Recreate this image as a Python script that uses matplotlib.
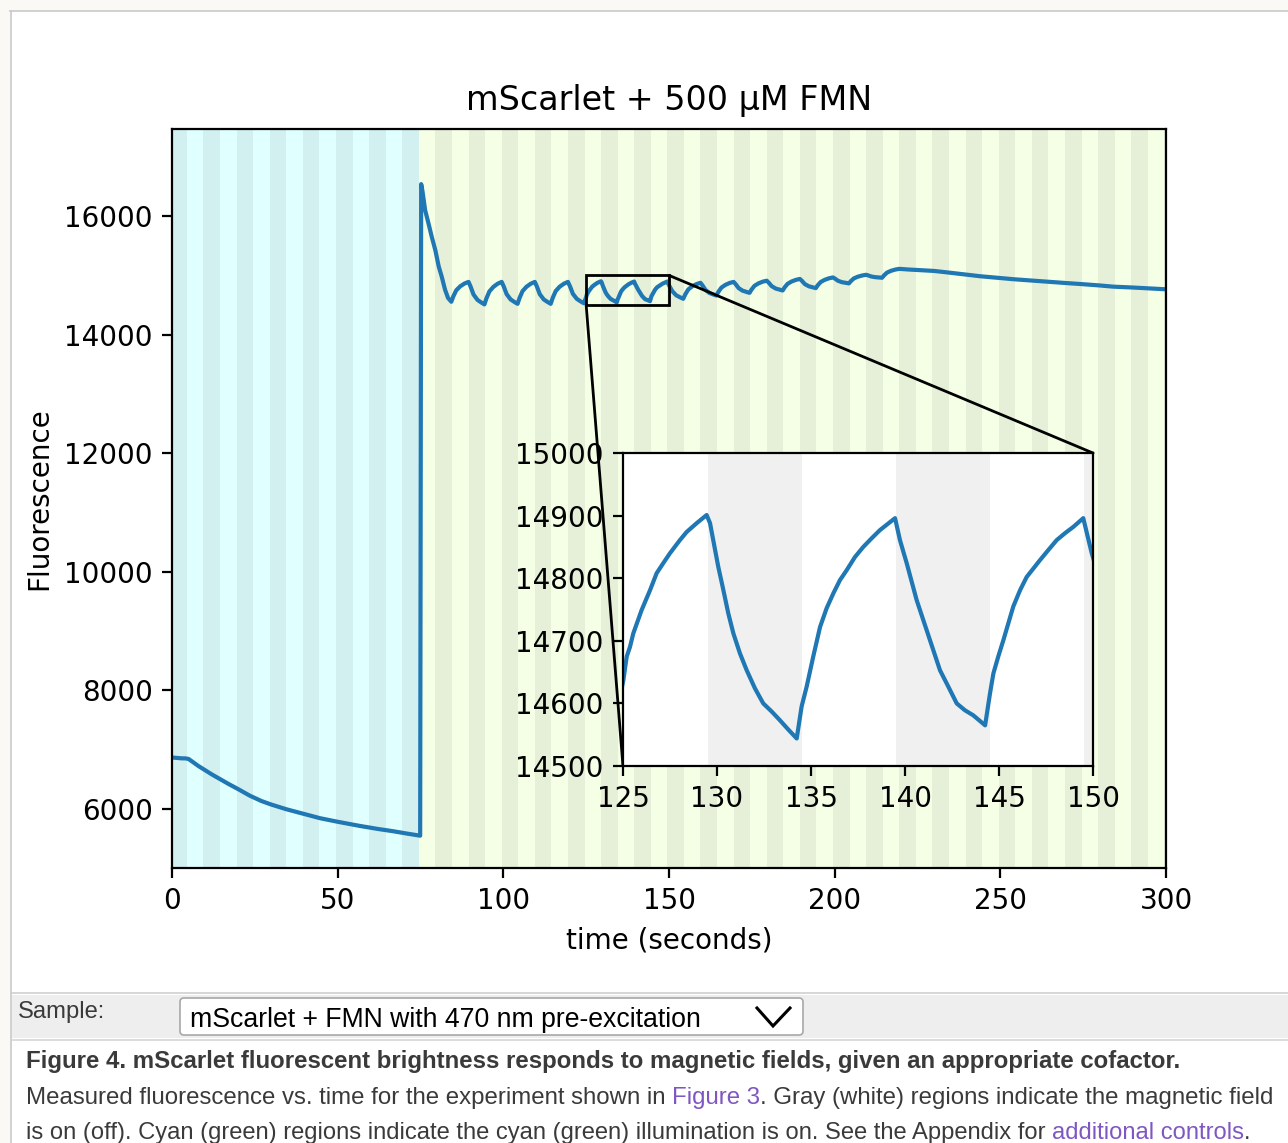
import matplotlib
matplotlib.use("Agg")
import matplotlib.pyplot as plt
from matplotlib.patches import Rectangle, FancyBboxPatch, ConnectionPatch

# ---------------- data ----------------
time_s = [
    0.0, 1.0, 2.0, 3.0, 4.0, 5.0, 6.0, 7.0, 8.0, 10.0, 12.0, 14.5, 17.0, 20.0,
    23.5, 27.0, 30.0, 34.6, 40.0, 44.7, 50.0, 56.7, 62.0, 66.8, 71.0, 74.9,
    75.2, 75.6, 76.4, 77.4, 78.4, 79.5, 80.5, 81.4, 82.4, 83.3, 84.3,
    84.9, 85.8, 87.0, 88.3, 89.5, 90.1, 91.0, 92.2, 93.3, 94.3,
    94.9, 95.8, 97.0, 98.3, 99.5, 100.1, 101.0, 102.2, 103.3, 104.3,
    104.9, 105.8, 107.0, 108.3, 109.5, 110.1, 111.0, 112.2, 113.3, 114.3,
    114.9, 115.8, 117.0, 118.3, 119.5, 120.1, 121.0, 122.2, 123.3, 124.3,
    125.02, 125.2, 125.37, 125.55, 125.99, 126.44, 126.79, 127.14, 127.5, 128.03,
    128.39, 128.92, 129.45, 129.63, 129.8, 130.07, 130.34, 130.6, 130.87, 131.22,
    131.58, 132.02, 132.46, 132.91, 133.35, 133.8, 134.24,
    134.5, 134.77, 135.12, 135.48, 135.83, 136.19, 136.54, 136.9, 137.34, 137.78,
    138.23, 138.67, 139.47, 139.73, 140.09, 140.36, 140.62, 141.15, 141.5, 141.86,
    142.3, 142.75, 143.19, 143.63, 144.26,
    144.52, 144.7, 144.96, 145.23, 145.76, 146.12, 146.47, 147.18, 147.62, 148.07,
    148.51, 148.95, 149.48, 149.93,
    151.0, 152.2, 153.3, 154.3,
    154.9, 155.8, 157.0, 158.3, 159.5, 160.1, 161.0, 162.2, 163.3, 164.3,
    164.9, 165.8, 167.0, 168.3, 169.5, 170.1, 171.0, 172.2, 173.3, 174.3,
    174.9, 175.8, 177.0, 178.3, 179.5, 180.1, 181.0, 182.2, 183.3, 184.3,
    184.9, 185.8, 187.0, 188.3, 189.5, 190.1, 191.0, 192.2, 193.3, 194.3,
    194.9, 195.8, 197.0, 198.3, 199.5, 200.1, 201.0, 202.2, 203.3, 204.3,
    204.9, 205.8, 207.0, 208.3, 209.5, 210.1, 211.0, 212.2, 213.3, 214.3,
    214.9, 215.8, 217.0, 218.3, 219.5,
    222.0, 225.0, 230.0, 234.0, 240.0, 244.0, 250.0, 254.0, 260.0, 264.0,
    270.0, 274.0, 280.0, 284.0, 290.0, 294.0, 300.0,
]
fluorescence = [
    6865, 6860, 6855, 6850, 6850, 6840, 6800, 6760, 6720, 6650, 6580, 6500, 6420, 6330,
    6220, 6130, 6070, 5990, 5910, 5840, 5780, 5710, 5660, 5620, 5580, 5545,
    16540, 16420, 16100, 15880, 15650, 15420, 15150, 14980, 14760, 14620, 14555,
    14645, 14749, 14816, 14863, 14890, 14814, 14677, 14586, 14544, 14510,
    14613, 14730, 14806, 14860, 14890, 14816, 14683, 14594, 14553, 14520,
    14620, 14735, 14809, 14860, 14890, 14816, 14683, 14594, 14553, 14520,
    14620, 14735, 14809, 14860, 14890, 14818, 14688, 14602, 14562, 14530,
    14637, 14675, 14690, 14712, 14749, 14781, 14808, 14824, 14840, 14861,
    14874, 14888, 14901, 14888, 14861, 14818, 14781, 14744, 14712, 14680,
    14653, 14624, 14600, 14587, 14573, 14558, 14544,
    14595, 14627, 14675, 14722, 14752, 14776, 14797, 14813, 14834, 14850,
    14864, 14877, 14896, 14861, 14824, 14794, 14765, 14717, 14685, 14653,
    14627, 14600, 14589, 14581, 14565,
    14616, 14648, 14675, 14701, 14755, 14781, 14802, 14829, 14845, 14861,
    14872, 14882, 14896, 14840,
    14733, 14663, 14631, 14605,
    14678, 14762, 14816, 14853, 14875, 14832, 14755, 14703, 14679, 14660,
    14722, 14793, 14839, 14872, 14890, 14853, 14786, 14742, 14722, 14705,
    14760, 14824, 14865, 14894, 14910, 14877, 14818, 14778, 14760, 14745,
    14798, 14858, 14897, 14924, 14940, 14909, 14853, 14816, 14799, 14785,
    14834, 14889, 14925, 14951, 14965, 14945, 14909, 14885, 14874, 14865,
    14904, 14949, 14978, 14998, 15010, 15000, 14982, 14970, 14965, 14960,
    15000, 15047, 15077, 15098, 15110,
    15100, 15090, 15075, 15050, 15010, 14985, 14955, 14935, 14910, 14895,
    14870, 14855, 14830, 14810, 14795, 14783, 14765,
]

cyan_period = (0, 74.5)
green_period = (74.5, 300)
field_on_start = [-0.5, 9.5, 19.5, 29.5, 39.5, 49.5, 59.5, 69.5, 79.5, 89.5,
                  99.5, 109.5, 119.5, 129.5, 139.5, 149.5, 159.5, 169.5, 179.5,
                  189.5, 199.5, 209.5, 219.5, 229.5, 239.5, 249.5, 259.5, 269.5,
                  279.5, 289.5, 299.5]
field_on_duration = 5

zoom_x = (125, 150)
zoom_y = (14500, 15000)

title = "mScarlet + 500 µM FMN"
x_label = "time (seconds)"
y_label = "Fluorescence"
x_ticks = [0, 50, 100, 150, 200, 250, 300]
y_ticks = [6000, 8000, 10000, 12000, 14000, 16000]
inset_x_ticks = [125, 130, 135, 140, 145, 150]
inset_y_ticks = [14500, 14600, 14700, 14800, 14900, 15000]

sample_label = "Sample:"
sample_choice = "mScarlet + FMN with 470 nm pre-excitation"
caption_bold = ("Figure 4. mScarlet fluorescent brightness responds to magnetic "
                "fields, given an appropriate cofactor.")
caption_line2 = [("Measured fluorescence vs. time for the experiment shown in ", "text"),
                 ("Figure 3", "link"),
                 (". Gray (white) regions indicate the magnetic field", "text")]
caption_line3 = [("is on (off). Cyan (green) regions indicate the cyan (green) "
                  "illumination is on. See the Appendix for ", "text"),
                 ("additional controls", "link"),
                 (".", "text")]

# ---------------- layout / style ----------------
W, H, DPI = 1288, 1143, 200
LINE_COLOR = "#1f77b4"
CYAN_BG = "#e0ffff"
GREEN_BG = "#f5ffe6"
FIELD_COLOR = "black"
FIELD_ALPHA = 0.058
TEXT_COL = {"text": "#3a3a3a", "link": "#7e57c2"}

fig = plt.figure(figsize=(W / DPI, H / DPI), dpi=DPI, facecolor="white")

# page background layer in pixel coordinates
bg = fig.add_axes([0, 0, 1, 1], zorder=-10)
bg.set_xlim(0, W)
bg.set_ylim(H, 0)
bg.axis("off")
page = "#faf9f5"
bg.add_patch(Rectangle((0, 0), W, 10.5, color=page, lw=0))
bg.add_patch(Rectangle((0, 0), 10.5, H, color=page, lw=0))
bg.plot([10.5, W], [11, 11], color="#c9c9c9", lw=0.6)
bg.plot([11, 11], [11, H], color="#c9c9c9", lw=0.6)
# sample row
bg.plot([11, W], [993, 993], color="#cfcfcf", lw=0.6)
bg.add_patch(Rectangle((12, 995), W - 12, 43, color="#eeeeee", lw=0))
bg.plot([11, W], [1040, 1040], color="#d6d6d6", lw=0.6)
bg.add_patch(FancyBboxPatch((180, 998), 623, 37,
                            boxstyle="round,pad=0,rounding_size=4",
                            facecolor="white", edgecolor="#a8a8a8", lw=0.6))
bg.plot([757, 773, 790], [1008, 1026, 1008], color="black", lw=1.1,
        solid_joinstyle="miter")

renderer = fig.canvas.get_renderer()


def text_width(s, fs, weight="normal", family="Liberation Sans"):
    t = bg.text(0, 0, s, fontsize=fs, weight=weight, family=family)
    w = t.get_window_extent(renderer).width
    t.remove()
    return w


def fit_pieces(x, y, pieces, target_w, weight="normal", family="Liberation Sans",
               colors=None):
    colors = colors or TEXT_COL
    full = "".join(p for p, _ in pieces)
    fs = 10 * target_w / text_width(full, 10, weight, family)
    prefix = ""
    ref = text_width("I", fs, weight, family)
    for s, kind in pieces:
        off = text_width(prefix + "I", fs, weight, family) - ref if prefix else 0
        bg.text(x + off, y, s, fontsize=fs, weight=weight, family=family,
                color=colors[kind], va="baseline", ha="left")
        prefix += s


fit_pieces(18, 1018, [(sample_label, "text")], 87)
fit_pieces(190, 1027, [(sample_choice, "text")], 511, colors={"text": "black"})
fit_pieces(26, 1068, [(caption_bold, "text")], 1154, weight="bold")
fit_pieces(26, 1104, caption_line2, 1249)
fit_pieces(26, 1139, caption_line3, 1219)

# ---------------- main chart ----------------
ax = fig.add_axes([172 / W, 1 - 868 / H, 994 / W, 739 / H])
ax.axvspan(*cyan_period, color=CYAN_BG, lw=0, zorder=0)
ax.axvspan(*green_period, color=GREEN_BG, lw=0, zorder=0)
for s in field_on_start:
    ax.axvspan(s, s + field_on_duration, color=FIELD_COLOR, alpha=FIELD_ALPHA,
               lw=0, zorder=0.5)
ax.plot(time_s, fluorescence, color=LINE_COLOR, lw=1.5, zorder=2)
ax.set_xlim(0, 300)
ax.set_ylim(5000, 17470)
ax.set_xticks(x_ticks)
ax.set_yticks(y_ticks)
ax.set_title(title, fontsize=12, pad=7)
ax.set_xlabel(x_label)
ax.set_ylabel(y_label)

axins = ax.inset_axes([0.4537, 0.1380, 0.4729, 0.4235])
axins.set_facecolor("white")
for s in field_on_start:
    axins.axvspan(s, s + field_on_duration, color=FIELD_COLOR, alpha=FIELD_ALPHA,
                  lw=0, zorder=0.5)
axins.plot(time_s, fluorescence, color=LINE_COLOR, lw=1.5, zorder=2)
axins.set_xlim(*zoom_x)
axins.set_ylim(*zoom_y)
axins.set_xticks(inset_x_ticks)
axins.set_yticks(inset_y_ticks)

# zoom rectangle and the two connectors (lower-left and upper-right)
ax.indicate_inset([zoom_x[0], zoom_y[0], zoom_x[1] - zoom_x[0], zoom_y[1] - zoom_y[0]],
                  edgecolor="black", alpha=1.0, lw=1.0)
for xy in [(zoom_x[0], zoom_y[0]), (zoom_x[1], zoom_y[1])]:
    con = ConnectionPatch(xyA=xy, coordsA=ax.transData, xyB=xy,
                          coordsB=axins.transData, color="black", lw=1.0,
                          zorder=4.99)
    ax.add_artist(con)

fig.savefig("out.png", dpi=DPI)
